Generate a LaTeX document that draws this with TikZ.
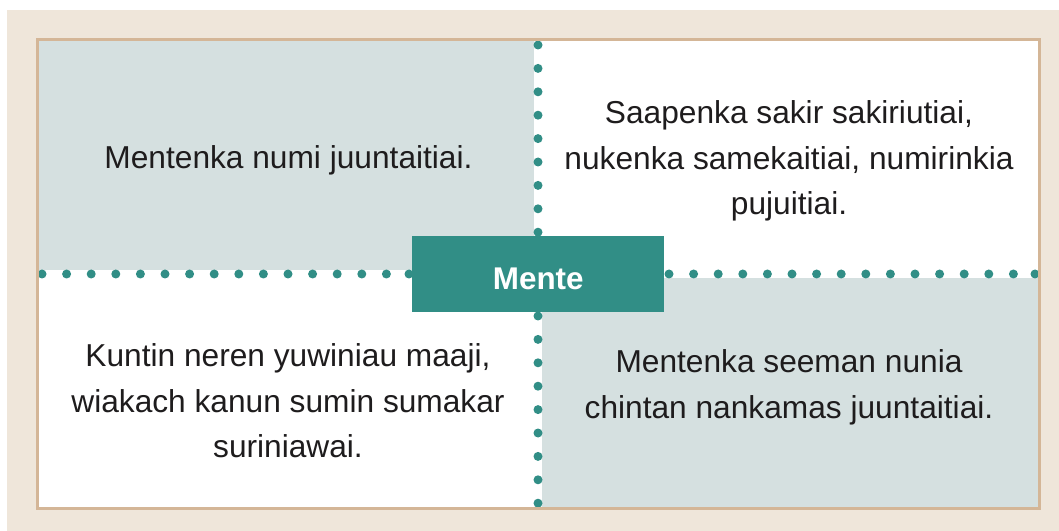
\documentclass[tikz,border=0pt]{standalone}
\usepackage{fontspec}
\setmainfont{Liberation Sans}
\definecolor{bgbeige}{HTML}{EFE6DA}
\definecolor{frametan}{HTML}{D4B697}
\definecolor{quadgray}{HTML}{D5E0E0}
\definecolor{tealc}{HTML}{318E86}
\definecolor{inkc}{HTML}{1E1C1D}
\begin{document}
\begin{tikzpicture}[x=1bp,y=-1bp,
  quadtext/.style={align=center,text=inkc,inner sep=0pt,
    font=\fontsize{31.8}{45.8}\selectfont},
  titlebox/.style={fill=tealc,text=white,inner sep=0pt,
    minimum width=252bp,minimum height=75.7bp,
    text height=32bp,text depth=0bp,
    font=\bfseries\fontsize{31.5}{36}\selectfont},
  dotmark/.style={fill=tealc},
  framestyle/.style={draw=frametan,line width=3bp}]
\useasboundingbox (0,0) rectangle (1059,531);
\fill[white] (0,0) rectangle (1059,531);
\fill[bgbeige] (7,10) rectangle (1059,531);
\fill[white] (39,41) rectangle (1038,507.5);
\fill[quadgray] (39,41) rectangle (534,270);
\fill[quadgray] (542,278) rectangle (1038,507.5);
% dotted dividers
\foreach \i in {0,...,14} {\fill[dotmark] (42+24.6*\i,274) circle (4.5bp);}
\fill[dotmark] (409,274) circle (4.5bp);
\foreach \i in {0,...,14} {\fill[dotmark] (669+24.6*\i,274) circle (4.5bp);}
\fill[dotmark] (1035,274) circle (4.5bp);
\foreach \i in {0,...,8} {\fill[dotmark] (538,45+23.4*\i) circle (4.5bp);}
\foreach \i in {0,...,8} {\fill[dotmark] (538,316+23.4*\i) circle (4.5bp);}
% frame
\draw[framestyle] (37.5,39.7) rectangle (1039.5,508.7);
% centre box
\node[titlebox] (mente) at (538.3,273.9) {Mente};
% quadrant texts
\node[quadtext] (tl) at (288.5,160.8) {Mentenka numi juuntaitiai.};
\node[quadtext] (tr) at (789,160.9) {Saapenka sakir sakiriutiai,\\ nukenka samekaitiai, numirinkia\\ pujuitiai.};
\node[quadtext] (bl) at (288,401) {Kuntin neren yuwiniau maaji,\\ wiakach kanun sumin sumakar\\ suriniawai.};
\node[quadtext] (br) at (789,387.3) {Mentenka seeman nunia\\ chintan nankamas juuntaitiai.};
\end{tikzpicture}
\end{document}
